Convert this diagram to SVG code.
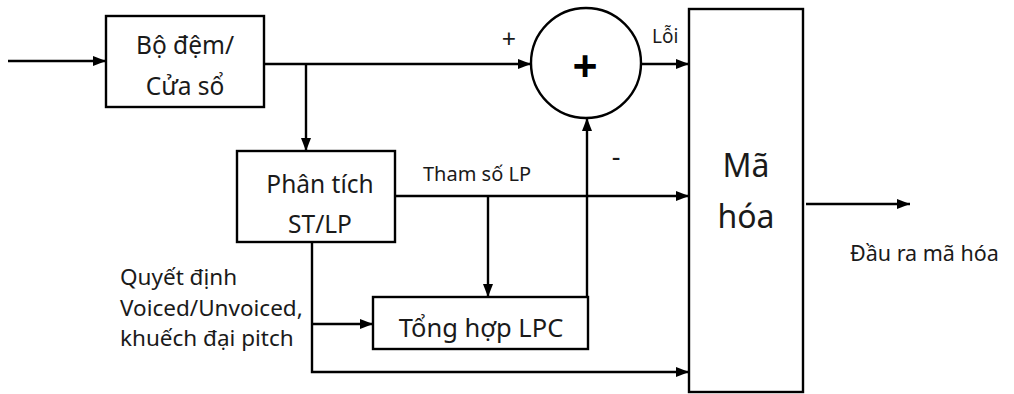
<svg xmlns="http://www.w3.org/2000/svg" width="1014" height="394" viewBox="0 0 1014 394">
<defs>
<marker id="ah" markerWidth="13" markerHeight="10" refX="13" refY="5" orient="auto" markerUnits="userSpaceOnUse">
<path d="M0,0 L13,5 L0,10 Z" fill="#000"/>
</marker>
<style>
.box{fill:#fff;stroke:#000;stroke-width:2.4}
.ln{fill:none;stroke:#000;stroke-width:2.4}
.t{font-family:"Noto Sans","Open Sans","DejaVu Sans",sans-serif;fill:#1a1a1a}
</style>
</defs>
<rect width="1014" height="394" fill="#fff"/>
<g id="connectors">
<path class="ln" d="M8,61 L106,61" marker-end="url(#ah)"/>
<path class="ln" d="M264,64 L531,64" marker-end="url(#ah)"/>
<path class="ln" d="M306,64 L306,151" marker-end="url(#ah)"/>
<path class="ln" d="M639,64 L689,64" marker-end="url(#ah)"/>
<path class="ln" d="M395,196 L689,196" marker-end="url(#ah)"/>
<path class="ln" d="M488,196 L488,297" marker-end="url(#ah)"/>
<path class="ln" d="M587,297 L587,118" marker-end="url(#ah)"/>
<path class="ln" d="M312,242 L312,372 L689,372" marker-end="url(#ah)"/>
<path class="ln" d="M312,324 L373,324" marker-end="url(#ah)"/>
<path class="ln" d="M806,204 L910,204" marker-end="url(#ah)"/>
</g>
<g id="buffer">
<rect class="box" x="106" y="16" width="158" height="91"/>
<text class="t" x="185" y="54" font-size="24.5" text-anchor="middle">Bộ đệm/</text>
<text class="t" x="185" y="95" font-size="24.5" text-anchor="middle">Cửa sổ</text>
</g>
<g id="analysis">
<rect class="box" x="237" y="151" width="158" height="91"/>
<text class="t" x="320" y="193" font-size="24.5" text-anchor="middle">Phân tích</text>
<text class="t" x="320" y="233" font-size="24.5" text-anchor="middle">ST/LP</text>
</g>
<g id="synthesis">
<rect class="box" x="373" y="297" width="215" height="52"/>
<text class="t" x="481" y="337" font-size="25.5" text-anchor="middle">Tổng hợp LPC</text>
</g>
<g id="sum">
<circle class="box" cx="586" cy="63" r="55"/>
<text x="585" y="82" font-family="Noto Sans, DejaVu Sans, sans-serif" font-weight="bold" font-size="44" text-anchor="middle">+</text>
</g>
<g id="encoder">
<rect class="box" x="689" y="9" width="114" height="383"/>
<text class="t" x="746" y="177" font-size="32" text-anchor="middle">Mã</text>
<text class="t" x="746" y="228" font-size="32" text-anchor="middle">hóa</text>
</g>
<g id="labels">
<text class="t" x="509" y="48" font-size="25" text-anchor="middle">+</text>
<text class="t" x="652" y="43" font-size="19">Lỗi</text>
<text class="t" x="616" y="166" font-size="27" text-anchor="middle">-</text>
<text class="t" x="423" y="181" font-size="20">Tham số LP</text>
<text class="t" x="120" y="285" font-size="22.5">Quyết định</text>
<text class="t" x="120" y="316" font-size="22.5">Voiced/Unvoiced,</text>
<text class="t" x="120" y="346" font-size="22.5">khuếch đại pitch</text>
<text class="t" x="850" y="261" font-size="21.5">Đầu ra mã hóa</text>
</g>
</svg>
